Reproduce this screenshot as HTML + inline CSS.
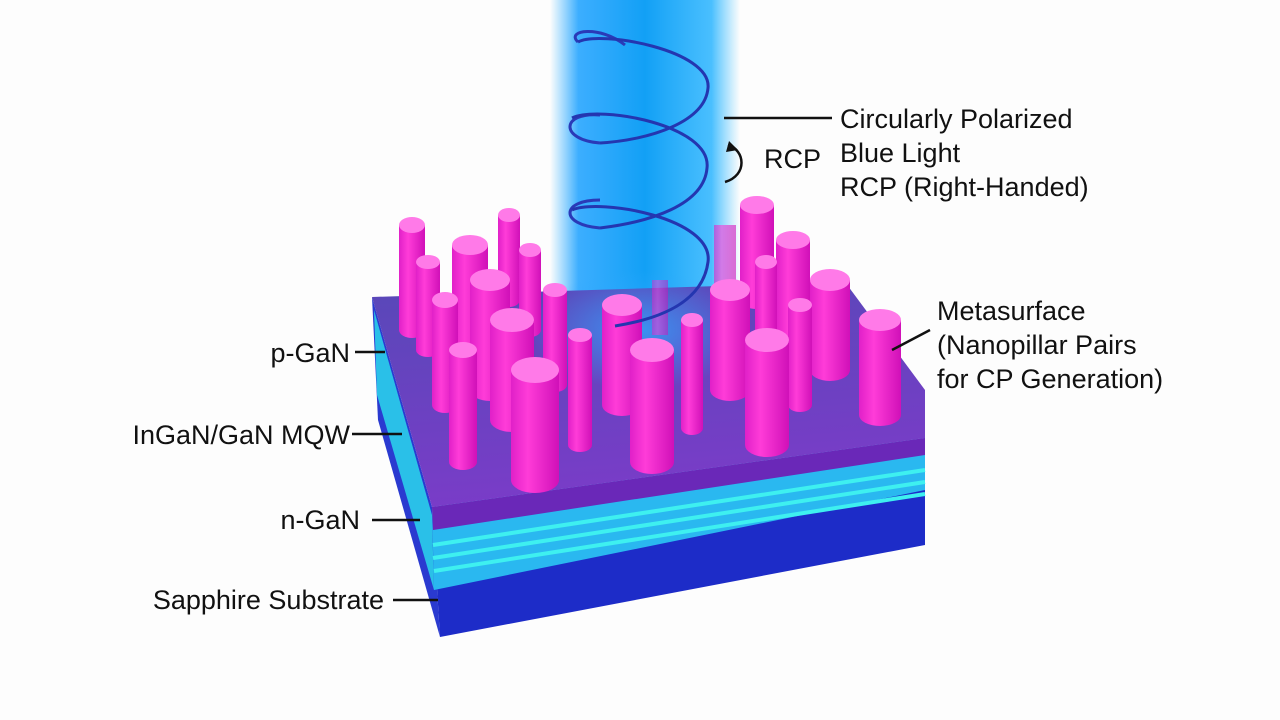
<!DOCTYPE html>
<html><head><meta charset="utf-8"><style>
html,body{margin:0;padding:0;background:#fdfdfd;}
svg{display:block;}
text{font-family:"Liberation Sans",Arial,sans-serif;fill:#111;}
</style></head><body>
<svg width="1280" height="720" viewBox="0 0 1280 720">
<defs>
<linearGradient id="beam" x1="0" x2="1" y1="0" y2="0">
<stop offset="0" stop-color="#1ea8ff" stop-opacity="0"/>
<stop offset="0.15" stop-color="#1aa0ff" stop-opacity="0.85"/>
<stop offset="0.5" stop-color="#12a0f5" stop-opacity="1"/>
<stop offset="0.85" stop-color="#2ab4ff" stop-opacity="0.85"/>
<stop offset="1" stop-color="#3cc0ff" stop-opacity="0"/>
</linearGradient>
<linearGradient id="top" x1="0" y1="0" x2="0.2" y2="1">
<stop offset="0" stop-color="#5848b8"/>
<stop offset="1" stop-color="#7a3cc8"/>
</linearGradient>
<radialGradient id="glow" cx="0.5" cy="0.5" r="0.5">
<stop offset="0" stop-color="#30a8ff" stop-opacity="0.8"/>
<stop offset="1" stop-color="#30a8ff" stop-opacity="0"/>
</radialGradient>
<linearGradient id="pill" x1="0" x2="1">
<stop offset="0" stop-color="#e020c8"/>
<stop offset="0.35" stop-color="#ff3cd8"/>
<stop offset="1" stop-color="#d010b8"/>
</linearGradient>
</defs>

<rect x="550" y="0" width="190" height="340" fill="url(#beam)"/>

<polygon points="372,297 432,507 440,637 378,420" fill="#2a3ad0"/>
<polygon points="374,310 432,515 434,590 377,395" fill="#2ac0e8"/>
<polygon points="432,507 925,438 925,545 440,637" fill="#1d2cc8"/>
<polygon points="432,507 925,438 925,490 434,590" fill="#2ab8f0"/>
<polygon points="432,507 925,438 925,455 433,530" fill="#6a28b8"/>
<g stroke="#3ef0f0" stroke-width="4">
<line x1="433" y1="545" x2="925" y2="470"/>
<line x1="433" y1="558" x2="925" y2="482"/>
<line x1="434" y1="571" x2="925" y2="494"/>
</g>
<polygon points="372,297 845,282 925,390 925,438 432,507" fill="url(#top)"/>
<ellipse cx="640" cy="330" rx="110" ry="60" fill="url(#glow)"/>

<g fill="none" stroke="#2a3ab8" stroke-width="3">
<path d="M578,42 C565,30 600,25 625,45"/>
<path d="M600,143 C560,140 560,112 600,115"/>
<path d="M600,228 C560,225 560,200 600,200"/>
</g>

<g fill="url(#pill)">
<rect x="399" y="225" width="26" height="105"/><ellipse cx="412" cy="330" rx="13" ry="8"/><ellipse cx="412" cy="225" rx="13" ry="8" fill="#ff7ae8"/>
<rect x="498" y="215" width="22" height="85"/><ellipse cx="509" cy="300" rx="11" ry="7"/><ellipse cx="509" cy="215" rx="11" ry="7" fill="#ff7ae8"/>
<rect x="452" y="245" width="36" height="95"/><ellipse cx="470" cy="340" rx="18" ry="10"/><ellipse cx="470" cy="245" rx="18" ry="10" fill="#ff7ae8"/>
<rect x="740" y="205" width="34" height="95"/><ellipse cx="757" cy="300" rx="17" ry="9"/><ellipse cx="757" cy="205" rx="17" ry="9" fill="#ff7ae8"/>
<rect x="714" y="225" width="22" height="75" opacity="0.6"/>
<rect x="776" y="240" width="34" height="90"/><ellipse cx="793" cy="330" rx="17" ry="9"/><ellipse cx="793" cy="240" rx="17" ry="9" fill="#ff7ae8"/>
<rect x="416" y="262" width="24" height="88"/><ellipse cx="428" cy="350" rx="12" ry="7"/><ellipse cx="428" cy="262" rx="12" ry="7" fill="#ff7ae8"/>
<rect x="519" y="250" width="22" height="80"/><ellipse cx="530" cy="330" rx="11" ry="7"/><ellipse cx="530" cy="250" rx="11" ry="7" fill="#ff7ae8"/>
<rect x="755" y="262" width="22" height="88"/><ellipse cx="766" cy="350" rx="11" ry="7"/><ellipse cx="766" cy="262" rx="11" ry="7" fill="#ff7ae8"/>
<rect x="470" y="280" width="40" height="110"/><ellipse cx="490" cy="390" rx="20" ry="11"/><ellipse cx="490" cy="280" rx="20" ry="11" fill="#ff7ae8"/>
<rect x="543" y="290" width="24" height="95"/><ellipse cx="555" cy="385" rx="12" ry="7"/><ellipse cx="555" cy="290" rx="12" ry="7" fill="#ff7ae8"/>
<rect x="810" y="280" width="40" height="90"/><ellipse cx="830" cy="370" rx="20" ry="11"/><ellipse cx="830" cy="280" rx="20" ry="11" fill="#ff7ae8"/>
<rect x="652" y="280" width="16" height="55" opacity="0.5"/>
<rect x="710" y="290" width="40" height="100"/><ellipse cx="730" cy="390" rx="20" ry="11"/><ellipse cx="730" cy="290" rx="20" ry="11" fill="#ff7ae8"/>
<rect x="432" y="300" width="26" height="105"/><ellipse cx="445" cy="405" rx="13" ry="8"/><ellipse cx="445" cy="300" rx="13" ry="8" fill="#ff7ae8"/>
<rect x="602" y="305" width="40" height="100"/><ellipse cx="622" cy="405" rx="20" ry="11"/><ellipse cx="622" cy="305" rx="20" ry="11" fill="#ff7ae8"/>
<rect x="788" y="305" width="24" height="100"/><ellipse cx="800" cy="405" rx="12" ry="7"/><ellipse cx="800" cy="305" rx="12" ry="7" fill="#ff7ae8"/>
<rect x="490" y="320" width="44" height="100"/><ellipse cx="512" cy="420" rx="22" ry="12"/><ellipse cx="512" cy="320" rx="22" ry="12" fill="#ff7ae8"/>
<rect x="681" y="320" width="22" height="108"/><ellipse cx="692" cy="428" rx="11" ry="7"/><ellipse cx="692" cy="320" rx="11" ry="7" fill="#ff7ae8"/>
<rect x="859" y="320" width="42" height="95"/><ellipse cx="880" cy="415" rx="21" ry="11"/><ellipse cx="880" cy="320" rx="21" ry="11" fill="#ff7ae8"/>
<rect x="568" y="335" width="24" height="110"/><ellipse cx="580" cy="445" rx="12" ry="7"/><ellipse cx="580" cy="335" rx="12" ry="7" fill="#ff7ae8"/>
<rect x="745" y="340" width="44" height="105"/><ellipse cx="767" cy="445" rx="22" ry="12"/><ellipse cx="767" cy="340" rx="22" ry="12" fill="#ff7ae8"/>
<rect x="449" y="350" width="28" height="112"/><ellipse cx="463" cy="462" rx="14" ry="8"/><ellipse cx="463" cy="350" rx="14" ry="8" fill="#ff7ae8"/>
<rect x="630" y="350" width="44" height="112"/><ellipse cx="652" cy="462" rx="22" ry="12"/><ellipse cx="652" cy="350" rx="22" ry="12" fill="#ff7ae8"/>
<rect x="511" y="370" width="48" height="110"/><ellipse cx="535" cy="480" rx="24" ry="13"/><ellipse cx="535" cy="370" rx="24" ry="13" fill="#ff7ae8"/>
</g>

<g fill="none" stroke="#2436b0" stroke-width="3">
<path d="M578,42 C600,30 712,50 708,88 C705,122 650,140 600,143"/>
<path d="M572,118 C600,105 712,125 707,168 C704,205 650,222 600,228"/>
<path d="M572,210 C600,198 714,218 708,262 C703,300 665,318 615,326"/>
</g>

<g font-size="27">
<text x="840" y="128">Circularly Polarized</text>
<text x="840" y="162">Blue Light</text>
<text x="840" y="196">RCP (Right-Handed)</text>
<text x="764" y="168">RCP</text>
<text x="937" y="320">Metasurface</text>
<text x="937" y="354">(Nanopillar Pairs</text>
<text x="937" y="388">for CP Generation)</text>
<text x="350" y="362" text-anchor="end">p-GaN</text>
<text x="350" y="444" text-anchor="end">InGaN/GaN MQW</text>
<text x="360" y="529" text-anchor="end">n-GaN</text>
<text x="384" y="609" text-anchor="end">Sapphire Substrate</text>
</g>
<g stroke="#111" stroke-width="2.5" fill="none">
<line x1="724" y1="118" x2="832" y2="118"/>
<path d="M728,145 C745,150 748,175 725,182"/>
<line x1="355" y1="352" x2="385" y2="352"/>
<line x1="352" y1="434" x2="402" y2="434"/>
<line x1="372" y1="520" x2="420" y2="520"/>
<line x1="393" y1="600" x2="438" y2="600"/>
<line x1="892" y1="350" x2="930" y2="330"/>
</g>
<polygon points="729,141 738,150 726,152" fill="#111"/>
</svg>
</body></html>
